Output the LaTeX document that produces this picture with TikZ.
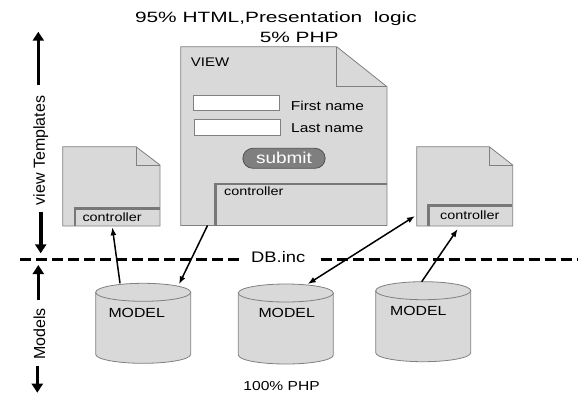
\documentclass[tikz,border=0pt]{standalone}
\usepackage{fontspec}
\setmainfont{Liberation Sans}[FakeStretch=1.2]
\newfontfamily\titlefont{Liberation Sans}[FakeStretch=1.4]
\newfontfamily\rotfont{Liberation Sans}
\usetikzlibrary{arrows.meta,calc}
\definecolor{docfill}{HTML}{D9D9D9}
\definecolor{edgegray}{HTML}{808080}
\definecolor{ctrlline}{HTML}{787878}
\definecolor{btnfill}{HTML}{7F7F7F}
\definecolor{btnedge}{HTML}{505050}
\begin{document}
\begin{tikzpicture}[x=1pt,y=-1pt,
  docshape/.style={fill=docfill,draw=edgegray,line width=0.8pt,line join=miter},
  ctrlL/.style={draw=ctrlline,line width=2.6pt},
  hold/.style={inner sep=0pt,outer sep=0pt,draw=none},
  lbl/.style={inner sep=0pt,anchor=base west,font=\fontsize{12}{14}\selectfont},
  field/.style={draw=edgegray,fill=white,line width=0.8pt,inner sep=0pt},
  cylbody/.style={fill=docfill,draw=edgegray,line width=0.8pt},
  bigarrow/.style={line width=3.6pt,-{Triangle[width=11pt,length=9pt]}},
  link/.style={line width=1.5pt,-{Latex[length=8pt,width=6pt]}},
  dblink/.style={line width=1.5pt,{Latex[length=8pt,width=6pt]}-{Latex[length=8pt,width=6pt]}},
  dashedline/.style={line width=3pt,dash pattern=on 11pt off 5pt}
]
\useasboundingbox (0,0) rectangle (586,400);

% ---------- title ----------
\node[inner sep=0pt,anchor=base,font=\titlefont\fontsize{14.9}{17}\selectfont] (title1) at (275.9,22.7) {95\% HTML,Presentation~~logic};
\node[inner sep=0pt,anchor=base,font=\titlefont\fontsize{14.9}{17}\selectfont] (title2) at (299.2,42.3) {5\% PHP};

% ---------- big VIEW document ----------
\path[docshape] (180.7,46.7) -- (336.7,46.7) -- (387,86.7) -- (387,225.5) -- (180.7,225.5) -- cycle;
\draw[edgegray,line width=0.8pt] (336.7,46.7) -- (336.7,86.7) -- (387,86.7);
\node[hold,minimum width=206.3pt,minimum height=178.8pt] (view) at (283.85,136.1) {};
\node[lbl,font=\fontsize{12.5}{14}\selectfont] (viewlbl) at (190.7,66.5) {VIEW};
\node[field,minimum width=86pt,minimum height=15.7pt] (fname) at (236.3,102.85) {};
\node[field,minimum width=86pt,minimum height=16.4pt] (lname) at (237.3,127.5) {};
\node[lbl,font=\fontsize{12.9}{15}\selectfont] (fnlbl) at (290.7,110.4) {First name};
\node[lbl,font=\fontsize{12.9}{15}\selectfont] (lnlbl) at (291,132.4) {Last name};
\node[draw=btnedge,fill=btnfill,rounded corners=10pt,line width=0.8pt,minimum width=82.3pt,minimum height=20pt,inner sep=0pt,text=white,font=\fontsize{15.8}{18}\selectfont] (submit) at (284,158.3) {submit};
\draw[ctrlL] (215.7,225.5) -- (215.7,184) -- (386.6,184);
\node[lbl] (ctrl0) at (224,195) {controller};

% ---------- left document ----------
\path[docshape] (62.7,146.7) -- (136,146.7) -- (160,165) -- (160,226) -- (62.7,226) -- cycle;
\draw[edgegray,line width=0.8pt] (136,146.7) -- (136,165) -- (160,165);
\node[hold,minimum width=97.3pt,minimum height=79.3pt] (ldoc) at (111.35,186.35) {};
\draw[ctrlL] (75,226) -- (75,208.3) -- (159.6,208.3);
\node[lbl] (ctrl1) at (82.3,221.6) {controller};

% ---------- right document ----------
\path[docshape] (416.7,146.7) -- (489.3,146.7) -- (512.7,165) -- (512.7,226) -- (416.7,226) -- cycle;
\draw[edgegray,line width=0.8pt] (489.3,146.7) -- (489.3,165) -- (512.7,165);
\node[hold,minimum width=96pt,minimum height=79.3pt] (rdoc) at (464.7,186.35) {};
\draw[ctrlL] (428.3,226) -- (428.3,205.7) -- (512.3,205.7);
\node[lbl] (ctrl2) at (440,219.3) {controller};

% ---------- DB.inc separator ----------
\node[inner sep=0pt,anchor=base west,font=\fontsize{15.3}{17}\selectfont] (db) at (251,262.7) {DB.inc};
\coordinate (dashA) at (20,259.3);
\coordinate (dashB) at (241,259.3);
\coordinate (dashC) at (320.6,259.3);
\coordinate (dashD) at (577,259.3);
\draw[dashedline] (dashA) -- (dashB);
\draw[dashedline] (dashC) -- (dashD);

% ---------- cylinders ----------
% model 1
\path[cylbody] (95.7,292.3) -- (95.7,354.3) arc[start angle=180,end angle=0,x radius=47.5,y radius=9] -- (190.7,292.3) -- cycle;
\path[cylbody] (143.2,292.3) ellipse[x radius=47.5,y radius=9];
\node[hold,minimum width=95pt,minimum height=80pt] (m1) at (143.2,323.3) {};
\node[lbl,font=\fontsize{13.2}{15}\selectfont] (m1lbl) at (108.3,317.3) {MODEL};
% model 2
\path[cylbody] (238.3,293) -- (238.3,355) arc[start angle=180,end angle=0,x radius=47.5,y radius=9] -- (333.3,293) -- cycle;
\path[cylbody] (285.8,293) ellipse[x radius=47.5,y radius=9];
\node[hold,minimum width=95pt,minimum height=80pt] (m2) at (285.8,324) {};
\node[lbl,font=\fontsize{13.2}{15}\selectfont] (m2lbl) at (258.3,317.3) {MODEL};
% model 3
\path[cylbody] (375.7,290.7) -- (375.7,352.7) arc[start angle=180,end angle=0,x radius=47.5,y radius=9] -- (470.7,290.7) -- cycle;
\path[cylbody] (423.2,290.7) ellipse[x radius=47.5,y radius=9];
\node[hold,minimum width=95pt,minimum height=80pt] (m3) at (423.2,321.7) {};
\node[lbl,font=\fontsize{13.2}{15}\selectfont] (m3lbl) at (390,315) {MODEL};

\node[inner sep=0pt,anchor=base,font=\fontsize{13}{15}\selectfont] (php) at (281.6,390) {100\% PHP};

% ---------- connectors ----------
\draw[link] ($(m1.north west)!0.256!(m1.north east)$) -- ($(ldoc.south west)!0.51!(ldoc.south east)+(0,1.3)$);
\draw[link] ($(view.south west)!0.13!(view.south east)$) -- ($(m1.north west)!0.877!(m1.north east)+(0,1)$);
\draw[dblink] ($(m2.north west)!0.731!(m2.north east)$) -- ($(rdoc.north west)!0.874!(rdoc.south west)+(-1.7,0)$);
\draw[link] ($(m3.north west)!0.484!(m3.north east)$) -- ($(rdoc.south west)!0.427!(rdoc.south east)+(0,3)$);

% ---------- side axis ----------
\coordinate (vt1) at (38.3,85);
\coordinate (vt2) at (38.3,31.7);
\coordinate (vt3) at (40.7,211.7);
\coordinate (vt4) at (40.7,253.3);
\coordinate (md1) at (38.3,300);
\coordinate (md2) at (38.3,265);
\coordinate (md3) at (37.3,365.7);
\coordinate (md4) at (37.3,392.7);
\draw[bigarrow] (vt1) -- (vt2);
\draw[bigarrow] (vt3) -- (vt4);
\draw[bigarrow] (md1) -- (md2);
\draw[bigarrow] (md3) -- (md4);
\node[inner sep=0pt,rotate=90,font=\rotfont\fontsize{16}{18}\selectfont] (vtl) at (40.8,150.5) {view Templates};
\node[inner sep=0pt,rotate=90,font=\rotfont\fontsize{16}{18}\selectfont] (mdl) at (39.5,334) {Models};
\end{tikzpicture}
\end{document}
